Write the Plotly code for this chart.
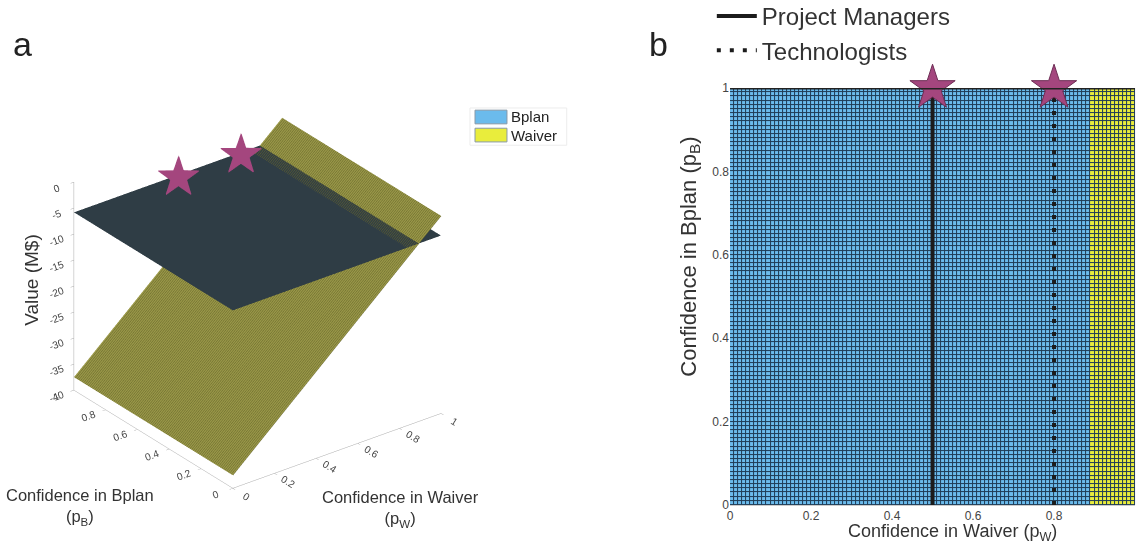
import numpy as np
import plotly.graph_objects as go

# ---------------- data ----------------
pw_axis = [0.0, 1.0]                 # confidence in Waiver (corners)
pb_axis = [0.0, 1.0]                 # confidence in Bplan (corners)
bplan_value = [[-5.8, -5.8],         # rows: pB, cols: pW  (M$)
               [-5.8, -5.8]]
waiver_value = [[-37.5, -2.0],
                [-37.5, -2.0]]
group_names = ["Project Managers", "Technologists"]
group_pw = [0.5, 0.8]                # stated confidence in Waiver
group_pb = [1.0, 1.0]                # stated confidence in Bplan
grid_step = 0.01                     # mesh of the decision map
legend_a_names = ["Bplan", "Waiver"]

tick_vals = [0, 0.2, 0.4, 0.6, 0.8, 1]
tick_text = ["0", "0.2", "0.4", "0.6", "0.8", "1"]
z_ticks = [0, -5, -10, -15, -20, -25, -30, -35, -40]
z_text = ["0", "-5", "-10", "-15", "-20", "-25", "-30", "-35", "-40"]

# ---------------- decision map from the two value planes ----------------
edges = np.round(np.arange(0, 1 + grid_step / 2, grid_step), 4)
centers = (edges[:-1] + edges[1:]) / 2
B = np.array(bplan_value); W = np.array(waiver_value)
def plane(Z, pw, pb):
    a, b = pw_axis; c, d = pb_axis
    tw = (pw - a) / (b - a); tb = (pb - c) / (d - c)
    return (Z[0, 0] * (1 - tw) * (1 - tb) + Z[0, 1] * tw * (1 - tb)
            + Z[1, 0] * (1 - tw) * tb + Z[1, 1] * tw * tb)
PW, PB = np.meshgrid(centers, centers)
choice = (plane(W, PW, PB) > plane(B, PW, PB)).astype(int)

FONT = "Liberation Sans, Arial, sans-serif"
BLUE = "#6bbbec"
YELLOW = "#e9ed3c"
STAR = "#a4467e"
DARK_PLANE = "#2f3d45"
OLIVE = "#9a9848"

# camera (orthographic) ------------------------------------------------
eye_dir = np.array([-0.535, -0.701, 0.471])
up_dir = np.array([0.286, 0.374, 0.882])
z_aspect = 0.90
k = 2.2
shift = up_dir * 0.045
eye = eye_dir * k + shift

fig = go.Figure()

# ---------------- panel a : 3D value surfaces ----------------
flat = dict(ambient=1, diffuse=0, specular=0, roughness=1, fresnel=0)
fig.add_trace(go.Surface(
    x=pw_axis, y=pb_axis, z=bplan_value, scene="scene",
    colorscale=[[0, DARK_PLANE], [1, DARK_PLANE]], showscale=False, lighting=flat,
    hoverinfo="skip", name="Bplan"))
fig.add_trace(go.Surface(
    x=pw_axis, y=pb_axis, z=waiver_value, scene="scene",
    colorscale=[[0, OLIVE], [1, OLIVE]], showscale=False, lighting=flat,
    contours=dict(y=dict(show=True, start=0, end=1, size=0.01, color="#66652c", width=1, highlight=False),
                  x=dict(highlight=False), z=dict(highlight=False)),
    hoverinfo="skip", name="Waiver"))
# stars on the Bplan surface, nudged toward the viewer so they are not hidden
t = 0.25
star_x = [x + eye_dir[0] * t for x in group_pw]
star_y = [y + eye_dir[1] * t for y in group_pb]
star_z = [plane(B, x, y) + eye_dir[2] * t * 40 / z_aspect for x, y in zip(group_pw, group_pb)]
fig.add_trace(go.Scatter3d(
    x=star_x, y=star_y, z=star_z, scene="scene", mode="text",
    text=["★"] * len(group_pw), textposition="middle center",
    textfont=dict(size=56, color=STAR, family="DejaVu Sans"),
    hoverinfo="skip", showlegend=False))

# ---------------- panel b : decision map ----------------
fig.add_trace(go.Heatmap(
    x=edges, y=edges, z=choice, zmin=0, zmax=1,
    colorscale=[[0, BLUE], [0.5, BLUE], [0.5, YELLOW], [1, YELLOW]],
    showscale=False, xgap=1, ygap=1, hoverinfo="skip", showlegend=False))
dashes = ["solid", "4px,9px"]
for name, pw, pb, dash in zip(group_names, group_pw, group_pb, dashes):
    fig.add_trace(go.Scatter(
        x=[pw, pw], y=[0, pb], mode="lines", name=name, legend="legend2",
        line=dict(color="#1c1c1c", width=4, dash=dash), hoverinfo="skip"))
fig.add_trace(go.Scatter(
    x=group_pw, y=group_pb, mode="markers", showlegend=False, cliponaxis=False,
    marker=dict(symbol="star", size=34, color=STAR, line=dict(color="#6e2d55", width=1)),
    hoverinfo="skip"))

ax3 = dict(showbackground=False, showgrid=False, zeroline=False, showline=True,
           linecolor="#aaaaaa", linewidth=1, ticks="outside", tickcolor="#aaaaaa", ticklen=4,
           showspikes=False, tickfont=dict(size=11, color="#444", family=FONT), title=dict(text=""))

# legend of panel a (swatches + labels)
leg_shapes = [dict(type="rect", xref="paper", yref="paper", x0=0.413, x1=0.498,
                   y0=0.735, y1=0.803, fillcolor="white", line=dict(color="#ececec", width=1))]
leg_annots = []
sw_colors = [BLUE, YELLOW]
sw_top = [0.799, 0.766]
for nm, col, y1 in zip(legend_a_names, sw_colors, sw_top):
    leg_shapes.append(dict(type="rect", xref="paper", yref="paper", x0=0.4174, x1=0.4455,
                           y0=y1 - 0.025, y1=y1, fillcolor=col, line=dict(color="#8a9aa8", width=1)))
    leg_annots.append(dict(text=nm, x=0.4475, y=y1 - 0.0125, xref="paper", yref="paper",
                           showarrow=False, xanchor="left", yanchor="middle",
                           font=dict(size=15, color="#222")))

def label(text, x, y, size, angle=0, color="#333"):
    return dict(text=text, x=x, y=y, xref="paper", yref="paper", showarrow=False,
                xanchor="center", yanchor="middle", textangle=angle,
                font=dict(size=size, color=color))

fig.update_layout(
    width=1138, height=548, margin=dict(l=0, r=0, t=0, b=0, autoexpand=False),
    paper_bgcolor="white", plot_bgcolor="#1f3c56",
    font=dict(family=FONT, color="#333"),
    scene=dict(
        domain=dict(x=[0.006, 0.446], y=[0.0, 0.956]),
        xaxis=dict(ax3, range=[0, 1], tickvals=tick_vals, ticktext=tick_text),
        yaxis=dict(ax3, range=[0, 1], tickvals=tick_vals, ticktext=tick_text),
        zaxis=dict(ax3, range=[-40, 0], tickvals=z_ticks, ticktext=z_text),
        aspectmode="manual", aspectratio=dict(x=1, y=1, z=z_aspect),
        camera=dict(projection=dict(type="orthographic"),
                    eye=dict(x=eye[0], y=eye[1], z=eye[2]),
                    up=dict(x=0, y=0, z=1), center=dict(x=shift[0], y=shift[1], z=shift[2])),
        bgcolor="white"),
    xaxis=dict(domain=[0.6415, 0.9974], range=[0, 1], tickvals=tick_vals, ticktext=tick_text,
               showgrid=False, zeroline=False, showline=True, linecolor="#cccccc",
               tickfont=dict(size=12, color="#444"), ticks="", automargin=False),
    yaxis=dict(domain=[0.0785, 0.8394], range=[0, 1], tickvals=tick_vals, ticktext=tick_text,
               showgrid=False, zeroline=False, showline=False, automargin=False,
               tickfont=dict(size=12, color="#444"), ticks=""),
    legend2=dict(x=0.6255, y=1.011, xanchor="left", yanchor="top", bgcolor="rgba(0,0,0,0)",
                 font=dict(size=24, color="#333"), itemwidth=40, tracegroupgap=0),
    shapes=leg_shapes + [dict(type="line", xref="x", yref="y", x0=0, x1=1, y0=1, y1=1,
                              line=dict(color="#222", width=3), layer="above")],
    annotations=leg_annots + [
        label("a", 0.020, 0.92, 34, color="#222"),
        label("b", 0.579, 0.92, 34, color="#222"),
        label("Value (M$)", 0.027, 0.489, 19, angle=-90),
        label("Confidence in Bplan<br>(p<sub>B</sub>)", 0.07, 0.075, 16.5),
        label("Confidence in Waiver<br>(p<sub>W</sub>)", 0.352, 0.071, 16.5),
        label("Confidence in Waiver (p<sub>W</sub>)", 0.8366, 0.029, 18),
        label("Confidence in Bplan (p<sub>B</sub>)", 0.606, 0.531, 22, angle=-90),
    ],
)

fig.write_html("out.html", config={"displayModeBar": False},
               post_script="document.body.style.margin='0';")
